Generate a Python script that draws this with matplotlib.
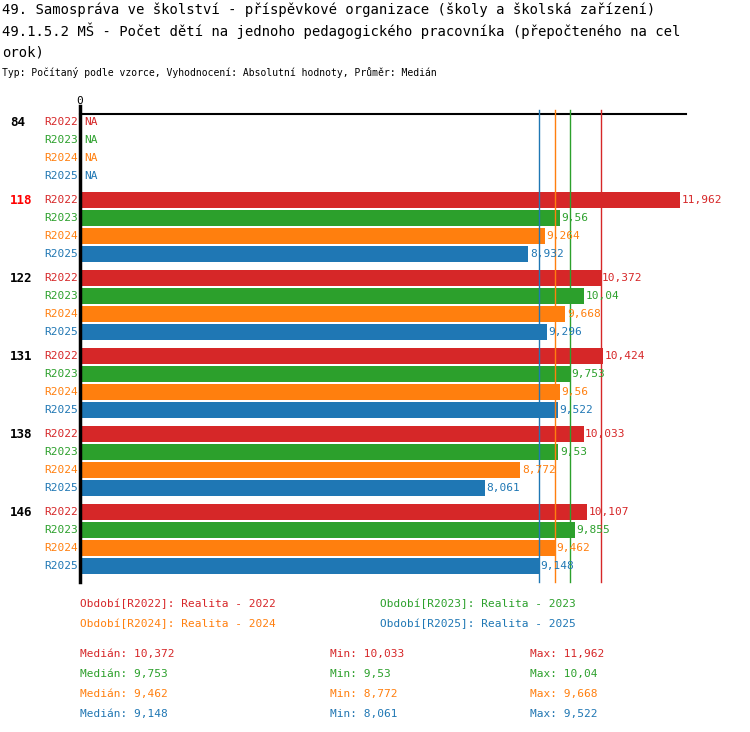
import matplotlib.pyplot as plt
import numpy as np

plt.rcParams['font.family'] = ['DejaVu Sans Mono']

groups = ['84', '118', '122', '131', '138', '146']
series = ['R2022', 'R2023', 'R2024', 'R2025']
colors = ['#d62728', '#2ca02c', '#ff7f0e', '#1f77b4']
values = {
    'R2022': [None, 11.962, 10.372, 10.424, 10.033, 10.107],
    'R2023': [None, 9.56, 10.04, 9.753, 9.53, 9.855],
    'R2024': [None, 9.264, 9.668, 9.56, 8.772, 9.462],
    'R2025': [None, 8.932, 9.296, 9.522, 8.061, 9.148],
}
medians = [10.372, 9.753, 9.462, 9.148]
mins = [10.033, 9.53, 8.772, 8.061]
maxs = [11.962, 10.04, 9.668, 9.522]
legend_labels = ['Období[R2022]: Realita - 2022', 'Období[R2023]: Realita - 2023',
                 'Období[R2024]: Realita - 2024', 'Období[R2025]: Realita - 2025']

W, H = 750, 732
fig = plt.figure(figsize=(W / 100, H / 100), dpi=100)
top, bot = 114, 582
ax = fig.add_axes([80 / W, 1 - bot / H, 606 / W, (bot - top) / H])
xmax = 606 / 50.2
ax.set_xlim(0, xmax)
ax.set_ylim(bot, top)
ax.axis('off')
ax.plot([0, xmax], [top, top], color='black', lw=1.5, clip_on=False)
ax.plot([0, 0], [top - 8, bot], color='black', lw=2.5, clip_on=False)
ax.text(0, top - 8, '0', ha='center', va='bottom', fontsize=8)

def fmt(v):
    return ('%g' % v).replace('.', ',')

for gi, g in enumerate(groups):
    y0 = 122 + gi * 78
    fig.text(10 / W, 1 - y0 / H, g, fontsize=9, fontweight='bold',
             color='red' if g == '118' else 'black', va='center')
    for si, s in enumerate(series):
        y = y0 + si * 18
        fig.text(78 / W, 1 - y / H, s, fontsize=8, color=colors[si], va='center', ha='right')
        v = values[s][gi]
        if v is None:
            ax.text(0.08, y, 'NA', fontsize=8, color=colors[si], va='center')
        else:
            ax.barh(y, v, height=16, color=colors[si])
            ax.text(v + 0.03, y, fmt(v), fontsize=8, color=colors[si], va='center')

for m, c in zip(medians, colors):
    ax.plot([m, m], [top - 4, bot], color=c, lw=1, clip_on=False)

fig.text(2 / W, 1 - 10 / H, '49. Samospráva ve školství - příspěvkové organizace (školy a školská zařízení)',
         fontsize=10, va='center')
fig.text(2 / W, 1 - 31 / H, '49.1.5.2 MŠ - Počet dětí na jednoho pedagogického pracovníka (přepočteného na cel',
         fontsize=10, va='center')
fig.text(2 / W, 1 - 52 / H, 'orok)', fontsize=10, va='center')
fig.text(2 / W, 1 - 73 / H, 'Typ: Počítaný podle vzorce, Vyhodnocení: Absolutní hodnoty, Průměr: Medián',
         fontsize=7, va='center')

lx = [80, 380]
for i, lab in enumerate(legend_labels):
    fig.text(lx[i % 2] / W, 1 - (604 + (i // 2) * 20) / H, lab, fontsize=8, color=colors[i], va='center')
for i in range(4):
    y = 1 - (654 + i * 20) / H
    fig.text(80 / W, y, 'Medián: ' + fmt(medians[i]), fontsize=8, color=colors[i], va='center')
    fig.text(330 / W, y, 'Min: ' + fmt(mins[i]), fontsize=8, color=colors[i], va='center')
    fig.text(530 / W, y, 'Max: ' + fmt(maxs[i]), fontsize=8, color=colors[i], va='center')

fig.savefig('out.png', dpi=100)
